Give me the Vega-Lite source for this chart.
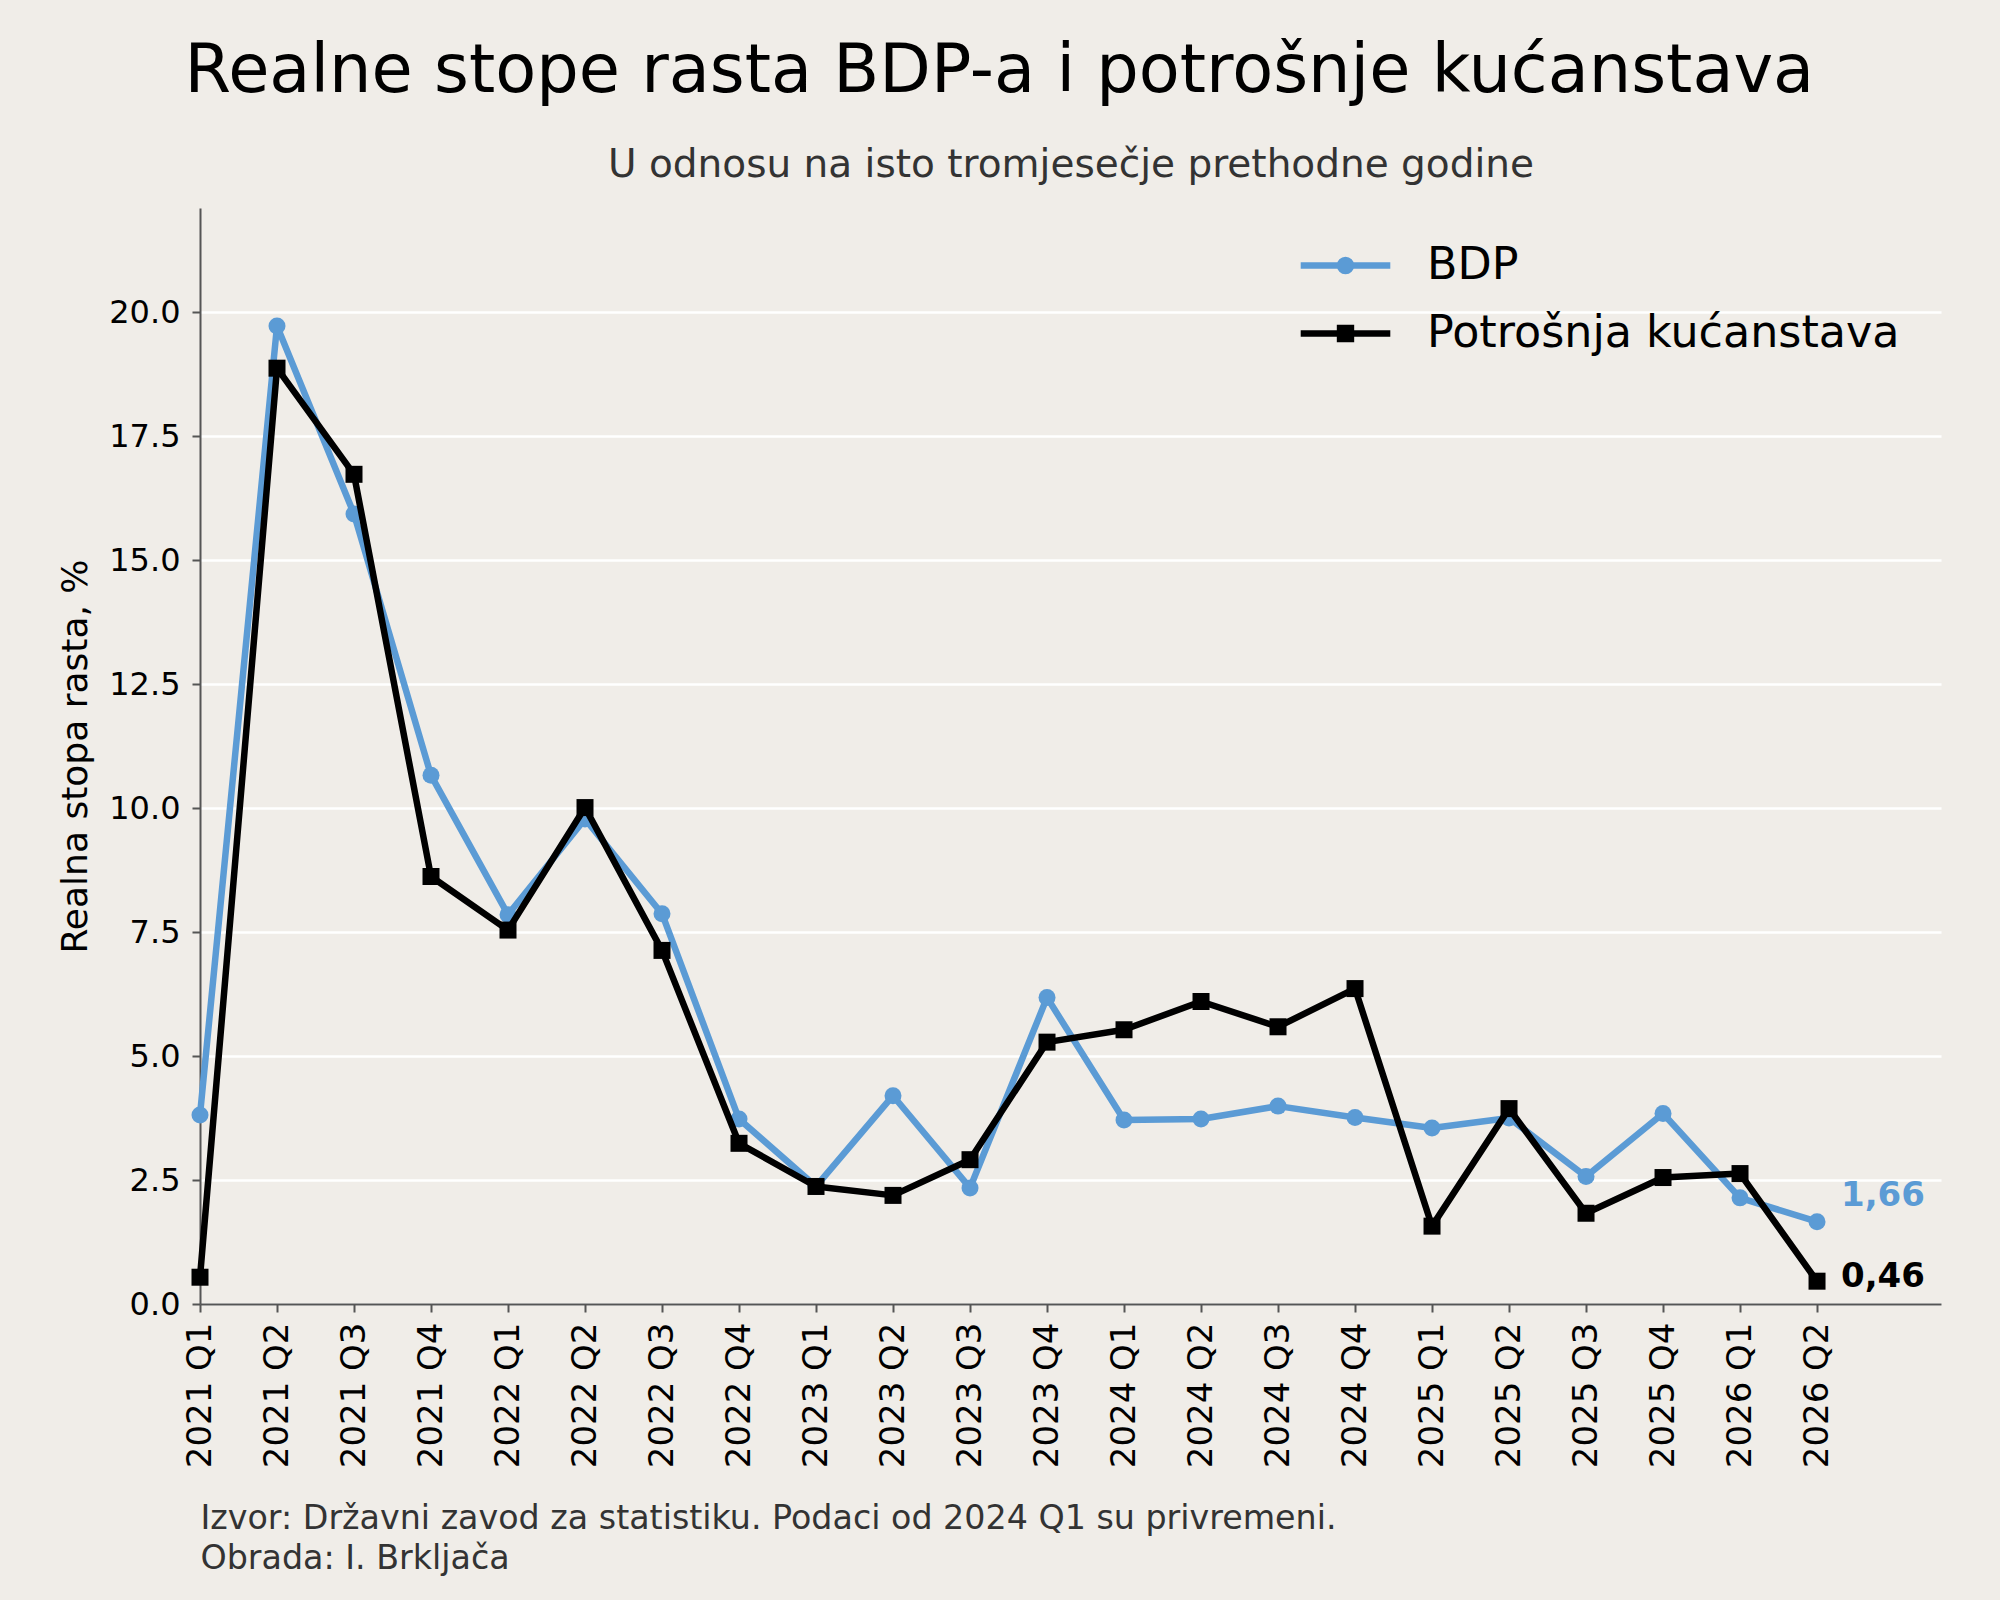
{
  "$schema": "https://vega.github.io/schema/vega-lite/v6.json",
  "width": 1741,
  "height": 1096,
  "autosize": "none",
  "padding": {"left": 200, "top": 208, "right": 59, "bottom": 296},
  "background": "#f0ede8",
  "title": {
    "text": "Realne stope rasta BDP-a i potrošnje kućanstava",
    "frame": "bounds",
    "anchor": "middle",
    "font": "DejaVu Sans",
    "fontSize": 67,
    "fontWeight": "normal",
    "color": "#000000",
    "baseline": "alphabetic",
    "offset": -14
  },
  "data": {
    "values": [
      {"q": "2021 Q1", "series": "BDP", "value": 3.81},
      {"q": "2021 Q2", "series": "BDP", "value": 19.72},
      {"q": "2021 Q3", "series": "BDP", "value": 15.93},
      {"q": "2021 Q4", "series": "BDP", "value": 10.66},
      {"q": "2022 Q1", "series": "BDP", "value": 7.85},
      {"q": "2022 Q2", "series": "BDP", "value": 9.78},
      {"q": "2022 Q3", "series": "BDP", "value": 7.87},
      {"q": "2022 Q4", "series": "BDP", "value": 3.73},
      {"q": "2023 Q1", "series": "BDP", "value": 2.37},
      {"q": "2023 Q2", "series": "BDP", "value": 4.2},
      {"q": "2023 Q3", "series": "BDP", "value": 2.34},
      {"q": "2023 Q4", "series": "BDP", "value": 6.18},
      {"q": "2024 Q1", "series": "BDP", "value": 3.71},
      {"q": "2024 Q2", "series": "BDP", "value": 3.73},
      {"q": "2024 Q3", "series": "BDP", "value": 3.99},
      {"q": "2024 Q4", "series": "BDP", "value": 3.76},
      {"q": "2025 Q1", "series": "BDP", "value": 3.55},
      {"q": "2025 Q2", "series": "BDP", "value": 3.75},
      {"q": "2025 Q3", "series": "BDP", "value": 2.57},
      {"q": "2025 Q4", "series": "BDP", "value": 3.84},
      {"q": "2026 Q1", "series": "BDP", "value": 2.14},
      {"q": "2026 Q2", "series": "BDP", "value": 1.66},
      {"q": "2021 Q1", "series": "Potrošnja kućanstava", "value": 0.54},
      {"q": "2021 Q2", "series": "Potrošnja kućanstava", "value": 18.87},
      {"q": "2021 Q3", "series": "Potrošnja kućanstava", "value": 16.73},
      {"q": "2021 Q4", "series": "Potrošnja kućanstava", "value": 8.62},
      {"q": "2022 Q1", "series": "Potrošnja kućanstava", "value": 7.54},
      {"q": "2022 Q2", "series": "Potrošnja kućanstava", "value": 10.01},
      {"q": "2022 Q3", "series": "Potrošnja kućanstava", "value": 7.13},
      {"q": "2022 Q4", "series": "Potrošnja kućanstava", "value": 3.24},
      {"q": "2023 Q1", "series": "Potrošnja kućanstava", "value": 2.37},
      {"q": "2023 Q2", "series": "Potrošnja kućanstava", "value": 2.19},
      {"q": "2023 Q3", "series": "Potrošnja kućanstava", "value": 2.91},
      {"q": "2023 Q4", "series": "Potrošnja kućanstava", "value": 5.28},
      {"q": "2024 Q1", "series": "Potrošnja kućanstava", "value": 5.53},
      {"q": "2024 Q2", "series": "Potrošnja kućanstava", "value": 6.1},
      {"q": "2024 Q3", "series": "Potrošnja kućanstava", "value": 5.59},
      {"q": "2024 Q4", "series": "Potrošnja kućanstava", "value": 6.36},
      {"q": "2025 Q1", "series": "Potrošnja kućanstava", "value": 1.57},
      {"q": "2025 Q2", "series": "Potrošnja kućanstava", "value": 3.94},
      {"q": "2025 Q3", "series": "Potrošnja kućanstava", "value": 1.83},
      {"q": "2025 Q4", "series": "Potrošnja kućanstava", "value": 2.55},
      {"q": "2026 Q1", "series": "Potrošnja kućanstava", "value": 2.63},
      {"q": "2026 Q2", "series": "Potrošnja kućanstava", "value": 0.46}
    ]
  },
  "resolve": {"axis": {"x": "independent"}},
  "layer": [
    {
      "transform": [{"filter": "datum.series == 'BDP'"}],
      "mark": {"type": "line", "strokeWidth": 6.5, "strokeJoin": "round"},
      "encoding": {
        "x": {
          "field": "q",
          "type": "ordinal",
          "sort": null,
          "scale": {"type": "point", "padding": 0.805, "align": 0},
          "axis": {
            "labelAngle": 270,
            "labelFontSize": 34,
            "labelPadding": 10,
            "labelColor": "#000000",
            "tickSize": 8,
            "tickWidth": 2,
            "tickColor": "#555555",
            "domainColor": "#555555",
            "domainWidth": 2,
            "grid": false,
            "title": ["Izvor: Državni zavod za statistiku. Podaci od 2024 Q1 su privremeni.", "Obrada: I. Brkljača"],
            "titleAnchor": "start",
            "titleAlign": "left",
            "titleFontSize": 33.3,
            "titleFontWeight": "normal",
            "titleColor": "#333333",
            "titleLineHeight": 40,
            "titlePadding": 35
          }
        },
        "y": {
          "field": "value",
          "type": "quantitative",
          "scale": {"domain": [0, 22.1], "nice": false},
          "axis": {
            "values": [0, 2.5, 5, 7.5, 10, 12.5, 15, 17.5, 20],
            "format": ".1f",
            "labelFontSize": 32,
            "labelPadding": 12,
            "labelColor": "#000000",
            "tickSize": 8,
            "tickWidth": 2,
            "tickColor": "#555555",
            "domainColor": "#555555",
            "domainWidth": 2,
            "grid": true,
            "gridColor": "#ffffff",
            "gridWidth": 2.7,
            "gridOpacity": 1,
            "title": "Realna stopa rasta, %",
            "titleFontSize": 36,
            "titleFontWeight": "normal",
            "titleColor": "#000000",
            "titlePadding": 14
          }
        },
        "color": {
          "field": "series",
          "type": "nominal",
          "scale": {"domain": ["BDP", "Potrošnja kućanstava"], "range": ["#5b9bd5", "#000000"]},
          "legend": {
            "orient": "none",
            "legendX": 1110,
            "legendY": 22,
            "title": null,
            "padding": 0,
            "labelFontSize": 44.4,
            "labelColor": "#000000",
            "labelOffset": 46,
            "labelLimit": 0,
            "rowPadding": 11,
            "symbolSize": 4096,
            "symbolStrokeWidth": 6.5,
            "encode": {
              "symbols": {
                "update": {
                  "shape": {"signal": "datum.value === 'BDP' ? 'M-1.4,0L1.4,0M-0.17,0A0.17,0.17,0,1,0,0.17,0A0.17,0.17,0,1,0,-0.17,0Z' : 'M-1.4,0L1.4,0M-0.17,-0.17L0.17,-0.17L0.17,0.17L-0.17,0.17Z'"},
                  "fill": {"signal": "scale('color', datum.value)"},
                  "stroke": {"signal": "scale('color', datum.value)"},
                  "strokeWidth": {"value": 6.5},
                  "opacity": {"value": 1}
                }
              }
            }
          }
        }
      }
    },
    {
      "transform": [{"filter": "datum.series == 'BDP'"}],
      "mark": {"type": "point", "shape": "circle", "filled": true, "size": 289, "opacity": 1},
      "encoding": {
        "x": {
          "field": "q",
          "type": "ordinal",
          "sort": null,
          "axis": {
            "orient": "top",
            "labels": false,
            "ticks": false,
            "domain": false,
            "grid": false,
            "title": "U odnosu na isto tromjesečje prethodne godine",
            "titleFontSize": 39,
            "titleFontWeight": "normal",
            "titleColor": "#333333",
            "titlePadding": 24
          }
        },
        "y": {"field": "value", "type": "quantitative"},
        "color": {"field": "series", "type": "nominal"}
      }
    },
    {
      "transform": [{"filter": "datum.series != 'BDP'"}],
      "mark": {"type": "line", "strokeWidth": 6.5, "strokeJoin": "round"},
      "encoding": {
        "x": {"field": "q", "type": "ordinal", "sort": null, "axis": null},
        "y": {"field": "value", "type": "quantitative"},
        "color": {"field": "series", "type": "nominal"}
      }
    },
    {
      "transform": [{"filter": "datum.series != 'BDP'"}],
      "mark": {"type": "point", "shape": "square", "filled": true, "size": 289, "opacity": 1},
      "encoding": {
        "x": {"field": "q", "type": "ordinal", "sort": null, "axis": null},
        "y": {"field": "value", "type": "quantitative"},
        "color": {"field": "series", "type": "nominal"}
      }
    },
    {
      "transform": [
        {"filter": "datum.series == 'BDP' && datum.q == '2026 Q2'"},
        {"calculate": "replace(format(datum.value, '.2f'), '.', ',')", "as": "label"}
      ],
      "mark": {"type": "text", "align": "left", "baseline": "middle", "dx": 24, "dy": -26, "fontSize": 34, "fontWeight": "bold", "font": "DejaVu Sans"},
      "encoding": {
        "x": {"field": "q", "type": "ordinal", "sort": null, "axis": null},
        "y": {"field": "value", "type": "quantitative"},
        "text": {"field": "label"},
        "color": {"field": "series", "type": "nominal"}
      }
    },
    {
      "transform": [
        {"filter": "datum.series != 'BDP' && datum.q == '2026 Q2'"},
        {"calculate": "replace(format(datum.value, '.2f'), '.', ',')", "as": "label"}
      ],
      "mark": {"type": "text", "align": "left", "baseline": "middle", "dx": 24, "dy": -4, "fontSize": 34, "fontWeight": "bold", "font": "DejaVu Sans"},
      "encoding": {
        "x": {"field": "q", "type": "ordinal", "sort": null, "axis": null},
        "y": {"field": "value", "type": "quantitative"},
        "text": {"field": "label"},
        "color": {"field": "series", "type": "nominal"}
      }
    }
  ],
  "config": {
    "font": "DejaVu Sans",
    "view": {"stroke": null},
    "axis": {"labelFont": "DejaVu Sans", "titleFont": "DejaVu Sans"},
    "legend": {"labelFont": "DejaVu Sans"}
  }
}
